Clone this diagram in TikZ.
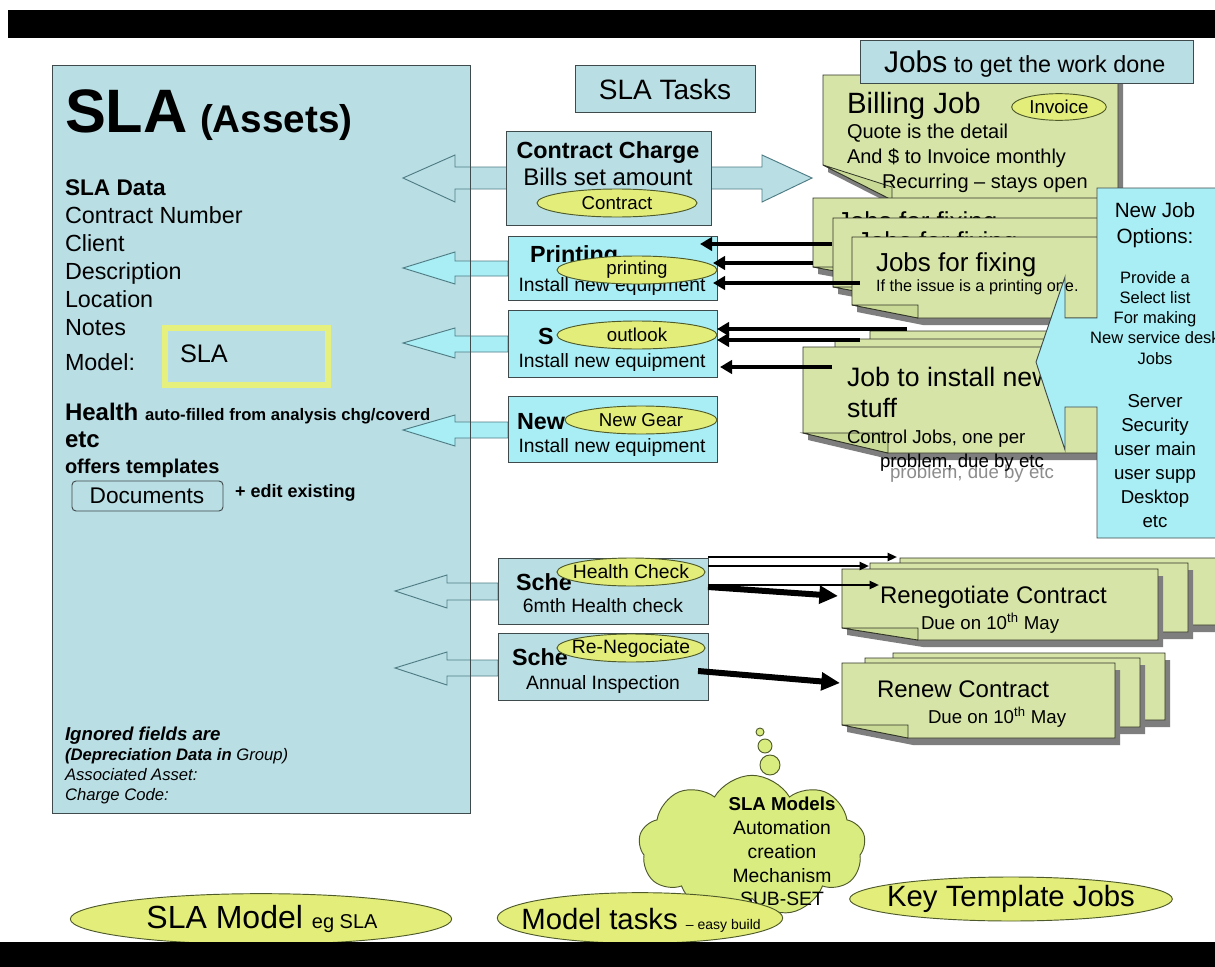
\documentclass[tikz,border=0pt]{standalone}
\usepackage{fontspec}
\setmainfont{Liberation Sans}
\usetikzlibrary{shapes.geometric,shapes.symbols,arrows.meta}
\definecolor{boxblue}{HTML}{B9DEE4}
\definecolor{cyanbox}{HTML}{A9EEF4}
\definecolor{boxborder}{HTML}{3F4A4C}
\definecolor{arrline}{HTML}{4F7C84}
\definecolor{notefill}{HTML}{D6E4A8}
\definecolor{flapfill}{HTML}{C9D996}
\definecolor{notedraw}{HTML}{2F3324}
\definecolor{shadowgray}{HTML}{7E7E7E}
\definecolor{pillfill}{HTML}{E3ED7A}
\definecolor{pilldraw}{HTML}{4E5A2A}
\definecolor{cloudfill}{HTML}{D9EC80}
\definecolor{yelline}{HTML}{E6F07C}
\definecolor{ghost}{HTML}{8C8C8C}
\newcommand{\fsz}[1]{\fontsize{#1}{#1}\selectfont}
\newcommand{\notelayer}[7]{%
  \fill[shadowgray,shift={(5,7)}] (#1,#2) -- (#3,#2) -- (#3,#4) -- (#6,#4) -- (#1,#5) -- cycle;
  \filldraw[fill=notefill,draw=notedraw,line width=0.6pt] (#1,#2) -- (#3,#2) -- (#3,#4) -- (#6,#4) -- (#1,#5) -- cycle;
  \filldraw[fill=flapfill,draw=notedraw,line width=0.6pt] (#1,#5) -- (#6,#7) -- (#6,#4) -- cycle;
}
\tikzset{
  txt/.style={inner sep=0pt,outer sep=0pt,text=black},
  bbox/.style={fill=boxblue,draw=boxborder,line width=0.7pt},
  cbox/.style={fill=cyanbox,draw=boxborder,line width=0.7pt},
  barrow/.style={fill=boxblue,draw=arrline,line width=0.7pt},
  carrow/.style={fill=cyanbox,draw=arrline,line width=0.7pt},
  pill/.style={ellipse,fill=pillfill,draw=pilldraw,line width=0.7pt,inner sep=0pt},
  thickarr/.style={line width=3pt,-{Triangle[length=9pt,width=10pt]}},
  thinarr/.style={line width=1.6pt,-{Triangle[length=7pt,width=6pt]}},
  bigarr/.style={line width=4.5pt,-{Triangle[length=14pt,width=13pt]}},
}
\begin{document}
\begin{tikzpicture}[x=0.75pt,y=-0.75pt]
\useasboundingbox (0,0) rectangle (1215,967);
\fill[white] (0,0) rectangle (1215,967);

% ---- big left box (fill) ----
\fill[boxblue] (52,65) rectangle (470,813);

% ---- block arrows ----
\filldraw[barrow] (455,167) -- (762,167) -- (762,155) -- (812,178) -- (762,202) -- (762,189) -- (455,189) -- (455,202) -- (403,178) -- (455,155) -- cycle;
\filldraw[carrow] (508,261) -- (455,261) -- (455,252) -- (403,268) -- (455,284) -- (455,276) -- (508,276) -- cycle;
\filldraw[carrow] (508,336) -- (455,336) -- (455,328) -- (403,343) -- (455,358) -- (455,352) -- (508,352) -- cycle;
\filldraw[carrow] (508,422) -- (455,422) -- (455,415) -- (403,430) -- (455,446) -- (455,438) -- (508,438) -- cycle;
\filldraw[barrow] (498,583) -- (447,583) -- (447,575) -- (395,591) -- (447,608) -- (447,600) -- (498,600) -- cycle;
\filldraw[barrow] (498,660) -- (447,660) -- (447,652) -- (395,668) -- (447,685) -- (447,676) -- (498,676) -- cycle;

\draw[boxborder,line width=0.7pt] (52,65) rectangle (470,813);

% ---- left box texts ----
\node[txt,anchor=base west] (slabig) at (65,132) {\fsz{46}\bfseries SLA};
\node[txt,anchor=base west] (assets) at (200,132) {\fsz{29}\bfseries (Assets)};
\node[txt,anchor=base west] (sladata) at (65,195) {\fsz{17}\bfseries SLA Data};
\node[txt,anchor=base west] (cnum) at (65,223) {\fsz{17.5}Contract Number};
\node[txt,anchor=base west] (client) at (65,251) {\fsz{17.5}Client};
\node[txt,anchor=base west] (descr) at (65,279) {\fsz{17.5}Description};
\node[txt,anchor=base west] (locat) at (65,307) {\fsz{17.5}Location};
\node[txt,anchor=base west] (notes) at (65,335) {\fsz{17.5}Notes};
\node[txt,anchor=base west] (model) at (65,370) {\fsz{17.5}Model:};
\draw[yelline,line width=4pt] (165,328) rectangle (328,385);
\node[txt,anchor=base west] (modelsla) at (180,362) {\fsz{19}SLA};
\node[txt,anchor=base west] (health) at (65,420) {\fsz{18}\bfseries Health \fsz{12.5}auto-filled from analysis chg/coverd};
\node[txt,anchor=base west] (etc) at (65,447) {\fsz{18}\bfseries etc};
\node[txt,anchor=base west] (offers) at (65,473) {\fsz{15}\bfseries offers templates};
\draw[boxborder,line width=0.7pt,rounded corners=3pt] (72,481) rectangle (223,511);
\node[txt] (docs) at (147,496) {\fsz{17}Documents};
\node[txt,anchor=base west] (editex) at (235,497) {\fsz{13.5}\bfseries + edit existing};
\node[txt,anchor=base west] (ignored) at (65,740) {\fsz{14}\bfseries\itshape Ignored fields are};
\node[txt,anchor=base west] (deprec) at (65,760) {\fsz{12.5}\itshape\textbf{(Depreciation Data in} Group)};
\node[txt,anchor=base west] (assoc) at (65,780) {\fsz{12.5}\itshape Associated Asset:};
\node[txt,anchor=base west] (chcode) at (65,800) {\fsz{12.5}\itshape Charge Code:};

% ---- top boxes ----
\draw[bbox] (575,65) rectangle (755,112);
\node[txt] (slatasks) at (665,89) {\fsz{21}SLA Tasks};

% ---- task boxes ----
\draw[bbox] (506,131) rectangle (711,225);
\node[txt,anchor=base] (cc) at (608,158) {\fsz{17.5}\bfseries Contract Charge};
\node[txt,anchor=base] (bills) at (608,185) {\fsz{18}Bills set amount};
\node[pill,minimum width=120pt,minimum height=21pt] (contractE) at (617,203) {};
\node[txt] (contractT) at (617,203) {\fsz{14}Contract};

\draw[cbox] (508,236) rectangle (717,300);
\node[txt,anchor=base west] (printingB) at (530,262) {\fsz{17.5}\bfseries Printing};
\node[txt,anchor=base] (inst1) at (612,291) {\fsz{14.5}Install new equipment};
\node[pill,minimum width=120pt,minimum height=21pt] (printingE) at (637,270) {};
\node[txt] (printingT) at (637,270) {\fsz{14}printing};

\draw[cbox] (508,310) rectangle (717,377);
\node[txt,anchor=base west] (sB) at (538,344) {\fsz{17.5}\bfseries S};
\node[txt,anchor=base] (inst2) at (612,367) {\fsz{14.5}Install new equipment};
\node[pill,minimum width=120pt,minimum height=21pt] (outlookE) at (637,335) {};
\node[txt] (outlookT) at (637,335) {\fsz{14}outlook};

\draw[cbox] (508,396) rectangle (717,462);
\node[txt,anchor=base west] (newB) at (517,429) {\fsz{17.5}\bfseries New};
\node[txt,anchor=base] (inst3) at (612,452) {\fsz{14.5}Install new equipment};
\node[pill,minimum width=114pt,minimum height=21pt] (gearE) at (641,420) {};
\node[txt] (gearT) at (641,420) {\fsz{14}New Gear};

\draw[bbox] (498,558) rectangle (708,624);
\node[txt,anchor=base west] (sche1) at (516,590) {\fsz{17.5}\bfseries Sche};
\node[txt,anchor=base] (sixm) at (603,612) {\fsz{14.5}6mth Health check};
\node[pill,minimum width=111pt,minimum height=21pt] (hcE) at (631,572) {};
\node[txt] (hcT) at (631,572) {\fsz{14.5}Health Check};

\draw[bbox] (498,633) rectangle (708,700);
\node[txt,anchor=base west] (sche2) at (512,665) {\fsz{17.5}\bfseries Sche};
\node[txt,anchor=base] (annual) at (603,689) {\fsz{14.5}Annual Inspection};
\node[pill,minimum width=111pt,minimum height=21pt] (rnE) at (631,648) {};
\node[txt] (rnT) at (631,648) {\fsz{14.5}Re-Negociate};

% ---- billing note ----
\notelayer{823}{75}{1118}{200}{165}{892}{187}
\node[txt,anchor=base west] (billing) at (847,113) {\fsz{22}Billing Job};
\node[pill,minimum width=71pt,minimum height=20pt] (invE) at (1059,107) {};
\node[txt] (invT) at (1059,107) {\fsz{14}Invoice};
\node[txt,anchor=base west] (quote) at (847,138) {\fsz{15}Quote is the detail};
\node[txt,anchor=base west] (andinv) at (847,163) {\fsz{15}And \$ to Invoice monthly};
\node[txt,anchor=base west] (recur) at (882,188) {\fsz{15}Recurring – stays open};

% ---- fixing stack ----
\notelayer{813}{198}{1100}{279}{267}{879}{267}
\node[txt,anchor=base west] (fixA) at (837,230) {\fsz{19.5}Jobs for fixing};
\notelayer{833}{218}{1100}{299}{287}{899}{287}
\node[txt,anchor=base west] (fixB) at (857,250) {\fsz{19.5}Jobs for fixing};
\notelayer{852}{237}{1100}{318}{305}{918}{305}
\node[txt,anchor=base west] (fixC) at (876,271) {\fsz{19.5}Jobs for fixing};
\node[txt,anchor=base west] (fixCs) at (876,291) {\fsz{12.2}If the issue is a printing one.};

% ---- install stack ----
\notelayer{870}{331}{1100}{437}{417}{955}{417}
\notelayer{835}{339}{1100}{445}{425}{920}{425}
\notelayer{803}{347}{1100}{453}{433}{888}{433}
\node[txt,anchor=base west] (inst4) at (847,386) {\fsz{20}Job to install new};
\node[txt,anchor=base west] (stuff) at (847,417) {\fsz{20}stuff};
\node[txt,anchor=base west] (ctrl) at (847,443) {\fsz{14}Control Jobs, one per};
\node[txt,anchor=base west,text=ghost] (probg) at (890,478) {\fsz{14}problem,\ due by etc};
\node[txt,anchor=base west] (prob) at (880,467) {\fsz{14}problem,\ due by etc};

% ---- callout ----
\filldraw[fill=cyanbox,draw=boxborder,line width=0.7pt] (1097,188) -- (1235,188) -- (1235,538) -- (1097,538) -- (1097,407) -- (1065,407) -- (1065,450) -- (1036,362) -- (1065,277) -- (1065,318) -- (1097,318) -- cycle;
\node[txt,anchor=base] (nj1) at (1155,217) {\fsz{15.5}New Job};
\node[txt,anchor=base] (nj2) at (1155,243) {\fsz{15.5}Options:};
\node[txt,anchor=base] (nj3) at (1155,283) {\fsz{12.4}Provide a};
\node[txt,anchor=base] (nj4) at (1155,303) {\fsz{12.4}Select list};
\node[txt,anchor=base] (nj5) at (1155,323) {\fsz{12.4}For making};
\node[txt,anchor=base] (nj6) at (1155,343) {\fsz{12.4}New service desk};
\node[txt,anchor=base] (nj7) at (1155,364) {\fsz{12.4}Jobs};
\node[txt,anchor=base] (nj8) at (1155,407) {\fsz{14}Server};
\node[txt,anchor=base] (nj9) at (1155,431) {\fsz{14}Security};
\node[txt,anchor=base] (nj10) at (1155,455) {\fsz{14}user main};
\node[txt,anchor=base] (nj11) at (1155,479) {\fsz{14}user supp};
\node[txt,anchor=base] (nj12) at (1155,503) {\fsz{14}Desktop};
\node[txt,anchor=base] (nj13) at (1155,527) {\fsz{14}etc};

% ---- renegotiate / renew stacks ----
\notelayer{900}{558}{1235}{625}{613}{976}{613}
\notelayer{870}{563}{1188}{632}{620}{946}{620}
\notelayer{842}{569}{1158}{640}{628}{918}{628}
\node[txt,anchor=base west] (reneg) at (880,603) {\fsz{18}Renegotiate Contract};
\node[txt,anchor=base west] (due1) at (921,629) {\fsz{14}Due on 10\textsuperscript{th} May};
\notelayer{893}{653}{1165}{720}{708}{969}{708}
\notelayer{865}{658}{1140}{727}{715}{941}{715}
\notelayer{842}{663}{1115}{738}{725}{908}{725}
\node[txt,anchor=base west] (renew) at (877,697) {\fsz{18}Renew Contract};
\node[txt,anchor=base west] (due2) at (928,723) {\fsz{14}Due on 10\textsuperscript{th} May};

% ---- jobs header box ----
\draw[bbox] (860,40) rectangle (1193,83);
\node[txt,anchor=base west] (jobsH) at (884,72) {\fsz{22.5}Jobs\fsz{17.5} to get the work done};

% ---- connector end points ----
\coordinate (p1s) at (832,244); \coordinate (p1e) at (700,244);
\coordinate (p2s) at (813,263); \coordinate (p2e) at (713,263);
\coordinate (p3s) at (860,283); \coordinate (p3e) at (713,283);
\coordinate (o1s) at (907,329); \coordinate (o1e) at (717,329);
\coordinate (o2s) at (860,340); \coordinate (o2e) at (717,340);
\coordinate (o3s) at (832,367); \coordinate (o3e) at (720,367);
\coordinate (h1s) at (708,557); \coordinate (h1e) at (897,557);
\coordinate (h2s) at (708,566); \coordinate (h2e) at (869,566);
\coordinate (h3s) at (708,585); \coordinate (h3e) at (879,585);
\coordinate (h4s) at (708,587); \coordinate (h4e) at (838,596);
\coordinate (r1s) at (698,671); \coordinate (r1e) at (840,683);
\draw[thickarr] (p1s) -- (p1e);
\draw[thickarr] (p2s) -- (p2e);
\draw[thickarr] (p3s) -- (p3e);
\draw[thickarr] (o1s) -- (o1e);
\draw[thickarr] (o2s) -- (o2e);
\draw[thickarr] (o3s) -- (o3e);
\draw[thinarr] (h1s) -- (h1e);
\draw[thinarr] (h2s) -- (h2e);
\draw[thinarr] (h3s) -- (h3e);
\draw[bigarr] (h4s) -- (h4e);
\draw[bigarr] (r1s) -- (r1e);

% ---- thought cloud ----
\node[cloud,cloud puffs=9,cloud puff arc=120,aspect=1.7,fill=cloudfill,draw=pilldraw,line width=0.7pt,minimum width=170pt,minimum height=106pt,inner sep=0pt] (cloud) at (752,846) {};
\filldraw[fill=cloudfill,draw=pilldraw,line width=0.7pt] (760,732) circle (4);
\filldraw[fill=cloudfill,draw=pilldraw,line width=0.7pt] (765,746) circle (7);
\filldraw[fill=cloudfill,draw=pilldraw,line width=0.7pt] (770,765) circle (10);
\node[txt,anchor=base] (cm1) at (782,810) {\fsz{14}\bfseries SLA Models};
\node[txt,anchor=base] (cm2) at (782,834) {\fsz{14.5}Automation};
\node[txt,anchor=base] (cm3) at (782,858) {\fsz{14.5}creation};
\node[txt,anchor=base] (cm4) at (782,882) {\fsz{14.5}Mechanism};
\node[txt,anchor=base] (cm5) at (782,905) {\fsz{14.5}SUB-SET};

% ---- bottom ellipses ----
\node[pill,minimum width=286pt,minimum height=38pt] (slamodelE) at (261,919) {};
\node[txt] (slamodelT) at (262,919) {\fsz{24}SLA Model \fsz{15}eg SLA};
\node[pill,minimum width=214pt,minimum height=38pt] (mtE) at (640,918) {};
\node[txt] (mtT) at (641,920) {\fsz{22}Model tasks \fsz{10.5}– easy build};
\node[pill,minimum width=242pt,minimum height=33pt] (ktE) at (1011,899) {};
\node[txt] (ktT) at (1011,899) {\fsz{22}Key Template Jobs};

% ---- black bars ----
\fill[black] (8,10) rectangle (1215,38);
\fill[black] (0,942) rectangle (1215,967);
\end{tikzpicture}
\end{document}
